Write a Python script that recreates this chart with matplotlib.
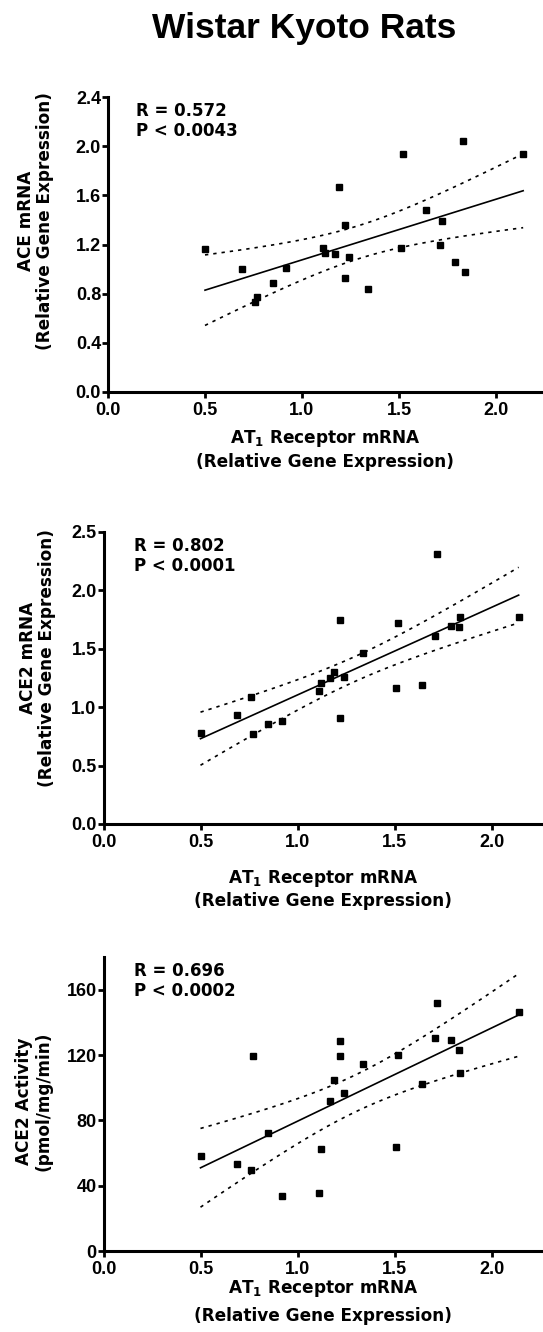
import numpy as np
import matplotlib
matplotlib.use("Agg")
import matplotlib.pyplot as plt

plt.rcParams['font.family'] = ['DejaVu Sans']
plt.rcParams['font.weight'] = 'bold'
plt.rcParams['mathtext.fontset'] = 'dejavusans'
plt.rcParams['mathtext.default'] = 'bf'

# Shared x: AT1 receptor mRNA (relative gene expression)
at1 = [0.50, 0.69, 0.76, 0.77, 0.85, 0.92, 1.11, 1.12, 1.17, 1.19, 1.22, 1.22,
       1.24, 1.34, 1.51, 1.52, 1.64, 1.71, 1.72, 1.79, 1.83, 1.84, 2.14]

ace_mrna = [1.165, 1.00, 0.73, 0.77, 0.89, 1.01, 1.17, 1.13, 1.12, 1.67, 1.36, 0.93,
            1.10, 0.84, 1.17, 1.94, 1.48, 1.20, 1.39, 1.06, 2.04, 0.975, 1.94]

ace2_mrna = [0.78, 0.935, 1.09, 0.77, 0.855, 0.885, 1.14, 1.205, 1.25, 1.30, 1.745, 0.905,
             1.26, 1.465, 1.165, 1.72, 1.19, 1.61, 2.31, 1.695, 1.69, 1.775, 1.775]

ace2_act = [58.2, 53.5, 49.6, 119.1, 72.1, 33.7, 35.3, 62.3, 92.1, 104.8, 128.5, 119.1,
            96.6, 114.4, 63.9, 120.3, 102.4, 130.2, 152.0, 129.3, 123.2, 108.9, 146.1]

stats_text = ["R = 0.572\nP < 0.0043", "R = 0.802\nP < 0.0001", "R = 0.696\nP < 0.0002"]
ylabels = ["ACE mRNA\n(Relative Gene Expression)",
           "ACE2 mRNA\n(Relative Gene Expression)",
           "ACE2 Activity\n(pmol/mg/min)"]
xlabel = "AT$_1$ Receptor mRNA\n(Relative Gene Expression)"
xticks = [0.0, 0.5, 1.0, 1.5, 2.0]
yticks_list = [[0.0, 0.4, 0.8, 1.2, 1.6, 2.0, 2.4],
               [0.0, 0.5, 1.0, 1.5, 2.0, 2.5],
               [0, 40, 80, 120, 160]]
ylims = [(0, 2.4), (0, 2.5), (0, 180)]
yfmts = ["{:.1f}", "{:.1f}", "{:.0f}"]
series = [ace_mrna, ace2_mrna, ace2_act]

W, H = 543, 1332
fig = plt.figure(figsize=(W / 100, H / 100), dpi=100)

# axes boxes in pixels: (left, top, bottom)
boxes = [(108, 97, 392), (103.5, 532, 824), (103.5, 957, 1251)]
ylab_pos = [(-0.124, 0.58), (-0.108, 0.567), (-0.117, 0.51)]
xlab_pos = [(0.50, -0.122), (0.50, -0.15), (0.50, -0.092)]
xlab_ls = [1.3, 1.25, 1.6]
stat_x = [0.064, 0.069, 0.069]

fig.text(304 / W, 1 - 38 / H, "Wistar Kyoto Rats", ha='center', va='baseline',
         fontsize=25.5, fontweight='bold', family='Liberation Sans')

t_crit = 2.08
x = np.array(at1)
for i in range(3):
    l, t, b = boxes[i]
    ax = fig.add_axes([l / W, 1 - b / H, (W - l) / W, (b - t) / H])
    y = np.array(series[i])
    ax.plot(x, y, 's', color='black', ms=5, mec='black')
    # linear fit with 95% confidence band
    slope, intercept = np.polyfit(x, y, 1)
    xs = np.linspace(x.min(), x.max(), 100)
    yh = slope * xs + intercept
    resid = y - (slope * x + intercept)
    n = len(x)
    s = np.sqrt(np.sum(resid ** 2) / (n - 2))
    sxx = np.sum((x - x.mean()) ** 2)
    ci = t_crit * s * np.sqrt(1 / n + (xs - x.mean()) ** 2 / sxx)
    ax.plot(xs, yh, '-', color='black', lw=1.2)
    ax.plot(xs, yh + ci, color='black', lw=1.2, ls=(0, (2, 3)))
    ax.plot(xs, yh - ci, color='black', lw=1.2, ls=(0, (2, 3)))

    ax.set_xlim(0, (W - l) / 194.0)
    ax.set_ylim(*ylims[i])
    ax.set_xticks(xticks)
    ax.set_xticklabels(["{:.1f}".format(v) for v in xticks])
    ax.set_yticks(yticks_list[i])
    ax.set_yticklabels([yfmts[i].format(v) for v in yticks_list[i]])
    for sp in ['top', 'right']:
        ax.spines[sp].set_visible(False)
    for sp in ['left', 'bottom']:
        ax.spines[sp].set_linewidth(2.2)
    ax.tick_params(direction='out', length=4, width=2, labelsize=13, pad=1)
    ax.tick_params(axis='x', pad=3.5)
    for lab in ax.get_xticklabels() + ax.get_yticklabels():
        lab.set_fontweight('bold')
        lab.set_family('Liberation Sans')
    ax.text(stat_x[i], 0.983, stats_text[i], transform=ax.transAxes, ha='left', va='top',
            fontsize=12, fontweight='bold', linespacing=1.15)
    ax.set_ylabel(ylabels[i], fontsize=12.2, fontweight='bold', linespacing=1.1)
    ax.yaxis.set_label_coords(*ylab_pos[i])
    ax.set_xlabel(xlabel, fontsize=12.2, fontweight='bold', linespacing=xlab_ls[i])
    ax.xaxis.set_label_coords(*xlab_pos[i])
    ax.patch.set_visible(False)

fig.savefig("out.png", dpi=100)
